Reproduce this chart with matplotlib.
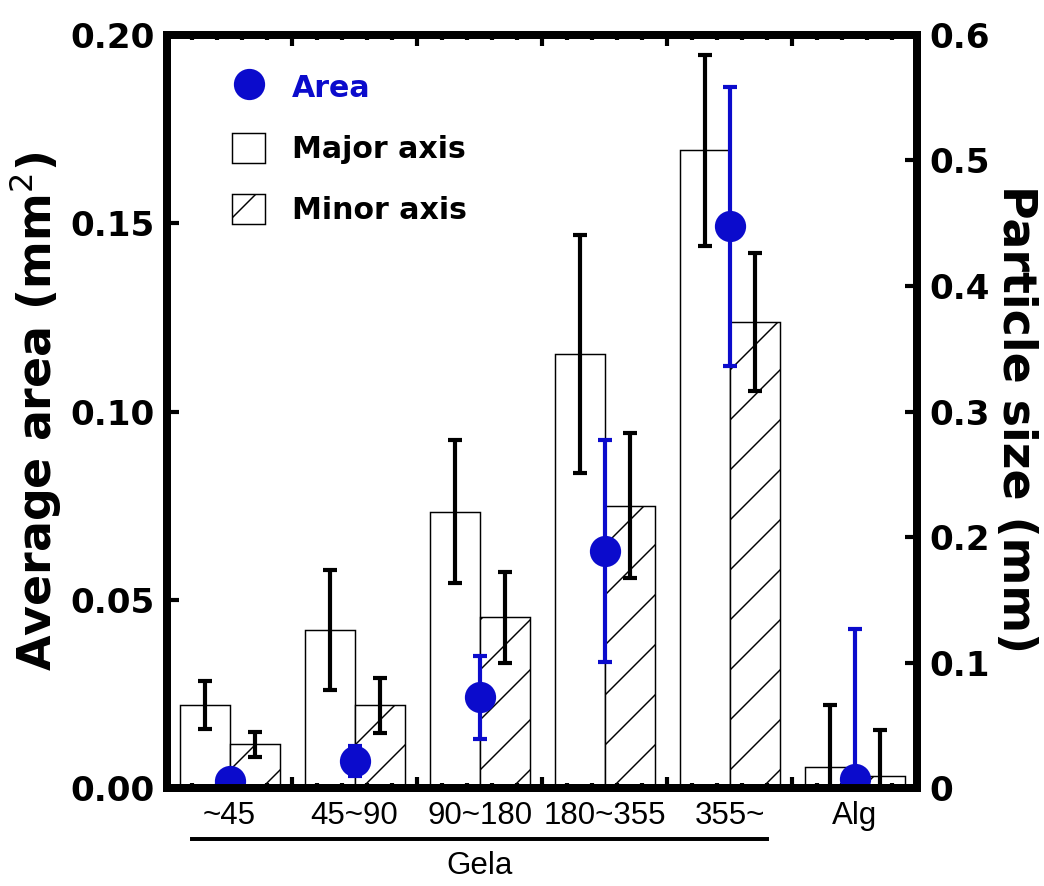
import matplotlib
matplotlib.use("Agg")
import matplotlib.pyplot as plt
import numpy as np
from matplotlib.lines import Line2D
from matplotlib.patches import Patch
from matplotlib.ticker import MultipleLocator

# data
groups = ["~45", "45~90", "90~180", "180~355", "355~", "Alg"]
major_axis = [0.066, 0.126, 0.220, 0.346, 0.508, 0.0165]      # mm
major_err = [0.019, 0.048, 0.057, 0.095, 0.076, 0.050]
minor_axis = [0.035, 0.066, 0.136, 0.225, 0.371, 0.0093]      # mm
minor_err = [0.010, 0.022, 0.036, 0.058, 0.055, 0.037]
area = [0.0019, 0.0071, 0.0241, 0.0630, 0.1492, 0.0024]       # mm^2
area_err = [0.0008, 0.0040, 0.0110, 0.0295, 0.0370, 0.0398]
left_ticks = [0.00, 0.05, 0.10, 0.15, 0.20]
left_labels = ["0.00", "0.05", "0.10", "0.15", "0.20"]
right_ticks = [0, 0.1, 0.2, 0.3, 0.4, 0.5, 0.6]
right_labels = ["0", "0.1", "0.2", "0.3", "0.4", "0.5", "0.6"]

blue = "#0b0bcc"
plt.rcParams["font.family"] = "DejaVu Sans"
plt.rcParams["hatch.linewidth"] = 0.35

fig = plt.figure(figsize=(1044 / 300, 886 / 300), dpi=300)
ax = fig.add_axes([0.160, 0.1106, 0.7185, 0.8499])
ax2 = ax.twinx()
ax.set_zorder(ax2.get_zorder() + 1)
ax.patch.set_visible(False)

x = np.arange(len(groups)) + 0.5
w = 0.4

# bars on the right axis (particle size)
ax2.bar(x - w / 2, major_axis, w, color="white", edgecolor="black", linewidth=0.35)
ax2.bar(x + w / 2, minor_axis, w, color="white", edgecolor="black", linewidth=0.35, hatch="//")
ax2.errorbar(x - w / 2, major_axis, yerr=major_err, fmt="none", ecolor="black",
             elinewidth=1.0, capsize=1.7, capthick=1.0)
ax2.errorbar(x + w / 2, minor_axis, yerr=minor_err, fmt="none", ecolor="black",
             elinewidth=1.0, capsize=1.7, capthick=1.0)

# area points on the left axis
ax.errorbar(x, area, yerr=area_err, fmt="o", color=blue, ms=6.5, mec=blue,
            elinewidth=1.0, capsize=1.7, capthick=1.0)

ax.set_xlim(0, 6)
ax.set_ylim(0, 0.2)
ax2.set_ylim(0, 0.6)

for a in (ax, ax2):
    for s in a.spines.values():
        s.set_linewidth(1.9)

ax.set_yticks(left_ticks, left_labels, fontsize=8.2, fontweight="bold")
ax2.set_yticks(right_ticks, right_labels, fontsize=8.2, fontweight="bold")
ax.tick_params(axis="y", direction="in", length=2.8, width=1.0, pad=3)
ax2.tick_params(axis="y", direction="in", length=2.8, width=1.0, pad=3)

ax.xaxis.set_major_locator(MultipleLocator(1))
ax.xaxis.set_minor_locator(MultipleLocator(0.2))
ax.tick_params(axis="x", which="major", direction="in", top=True, length=2.6,
               width=1.0, labelbottom=False)
ax.tick_params(axis="x", which="minor", direction="in", top=True, length=1.2, width=1.0)

sec = ax.secondary_xaxis("bottom")
sec.set_xticks(x, groups, fontsize=7.5, family="Liberation Sans")
sec.tick_params(length=0, pad=3)
sec.spines["bottom"].set_visible(False)

ax.set_ylabel("Average area (mm$^2$)", fontsize=11, fontweight="bold", va="center")
ax.yaxis.set_label_coords(-0.176, 0.5)
ax2.set_ylabel("Particle size (mm)", fontsize=11, fontweight="bold", rotation=270,
               va="center")
ax2.yaxis.set_label_coords(1.131, 0.49)

# Gela bracket under the first five groups
tr = ax.get_xaxis_transform()
ax.plot([0.2, 4.8], [-0.068, -0.068], color="black", lw=0.95, transform=tr, clip_on=False)
ax.text(2.5, -0.103, "Gela", transform=tr, ha="center", va="center", fontsize=7.5,
        family="Liberation Sans")

handles = [
    Line2D([], [], marker="o", ls="none", color=blue, ms=6.5),
    Patch(facecolor="white", edgecolor="black", linewidth=0.35),
    Patch(facecolor="white", edgecolor="black", linewidth=0.35, hatch="//"),
]
leg = ax.legend(handles, ["Area", "Major axis", "Minor axis"], loc="upper left",
                bbox_to_anchor=(0.087, 0.951), frameon=False, borderpad=0,
                borderaxespad=0, handlelength=1.1, handleheight=1.15,
                handletextpad=0.9, labelspacing=1.0,
                prop={"size": 7.2, "weight": "bold"})
leg.get_texts()[0].set_color(blue)

fig.savefig("out.png", dpi=300)
